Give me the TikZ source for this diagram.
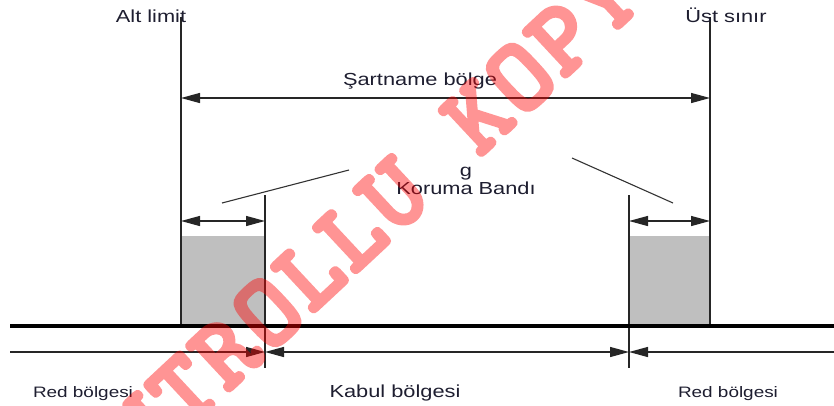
\documentclass[tikz,border=0pt]{standalone}
\usepackage{fontspec}
\setmainfont[FakeStretch=1.25]{Liberation Sans}
\newfontfamily\wmfont[Extension=.otf, FakeBold=3.5]{lmmonolt10-bold}
\usetikzlibrary{arrows.meta}
\definecolor{txt}{RGB}{30,30,48}
\definecolor{boxgray}{RGB}{191,191,191}
\tikzset{
  lbl/.style={anchor=base, inner sep=0pt, text=txt, font=\fontsize{17.5}{20}\selectfont},
  smalllbl/.style={anchor=base, inner sep=0pt, text=txt, font=\fontsize{15.2}{18}\selectfont},
  limitline/.style={line width=2bp, draw=black!85},
  guardline/.style={line width=1.6bp, draw=black!85},
  dimline/.style={line width=1.3bp, draw=black!85},
  slant/.style={line width=1.1bp, draw=black!80},
  tip/.tip={Triangle[length=19bp, width=10bp]},
  wm/.style={transform shape, anchor=base, inner sep=0pt, text=red,
    font=\fontsize{104}{104}\selectfont\wmfont}
}
\begin{document}
\begin{tikzpicture}[x=1bp, y=-1bp]
\useasboundingbox (0,0) rectangle (834,405);
\clip (0,0) rectangle (834,405);

% coordinates
\coordinate (altT) at (181,17);
\coordinate (altB) at (181,326);
\coordinate (ustT) at (710,17);
\coordinate (ustB) at (710,326);
\coordinate (sL) at (181,98);
\coordinate (sR) at (710,98);
\coordinate (gLT) at (265,195);
\coordinate (gLB) at (265,368);
\coordinate (gRT) at (629,195);
\coordinate (gRB) at (629,368);
\coordinate (aL1) at (181,221);
\coordinate (aL2) at (265,221);
\coordinate (aR1) at (629,221);
\coordinate (aR2) at (710,221);
\coordinate (baseL) at (10,326);
\coordinate (baseR) at (834,326);
\coordinate (lowL) at (10,352);
\coordinate (low1) at (265,352);
\coordinate (low2) at (629,352);
\coordinate (lowR) at (834,352);
\coordinate (slL1) at (222,203);
\coordinate (slL2) at (349,170);
\coordinate (slR1) at (572,158);
\coordinate (slR2) at (673,203);

% gray boxes
\fill[boxgray] (181,236) rectangle (265,326);
\fill[boxgray] (629,236) rectangle (710,326);

% limit lines
\draw[limitline] (altT) -- (altB);
\draw[limitline] (ustT) -- (ustB);

% specification arrow
\draw[dimline, {tip}-{tip}] (sL) -- (sR);

% guard band lines
\draw[guardline] (gLT) -- (gLB);
\draw[guardline] (gRT) -- (gRB);
\draw[dimline, {tip}-{tip}] (aL1) -- (aL2);
\draw[dimline, {tip}-{tip}] (aR1) -- (aR2);

% slanted leader lines
\draw[slant] (slL1) -- (slL2);
\draw[slant] (slR1) -- (slR2);

% base line
\draw[line width=4bp, black] (baseL) -- (baseR);

% lower arrows
\draw[dimline, -{tip}] (lowL) -- (low1);
\draw[dimline, {tip}-{tip}] (low1) -- (low2);
\draw[dimline, {tip}-] (low2) -- (lowR);

% labels
\node[lbl] (alt) at (151,22) {Alt limit};
\node[lbl] (ust) at (726,22) {Üst sınır};
\node[lbl] (sart) at (420,85) {Şartname bölge};
\node[lbl] (g) at (466,176) {g};
\node[lbl] (kor) at (466,194) {Koruma Bandı};
\node[smalllbl] (red1) at (83,397) {Red bölgesi};
\node[lbl] (kab) at (395,397) {Kabul bölgesi};
\node[smalllbl] (red2) at (728,397) {Red bölgesi};

% watermark
\begin{scope}[transparency group, opacity=0.42]
\begin{scope}[shift={(268,313)}, rotate=43]
\foreach \c [count=\i from 0] in {K,O,N,T,R,O,L,L,U,{},K,O,P,Y,A}
  \node[wm] (wm\i) at ({(\i-5)*57.5}, 31) {\c};
\end{scope}
\end{scope}
\end{tikzpicture}
\end{document}
